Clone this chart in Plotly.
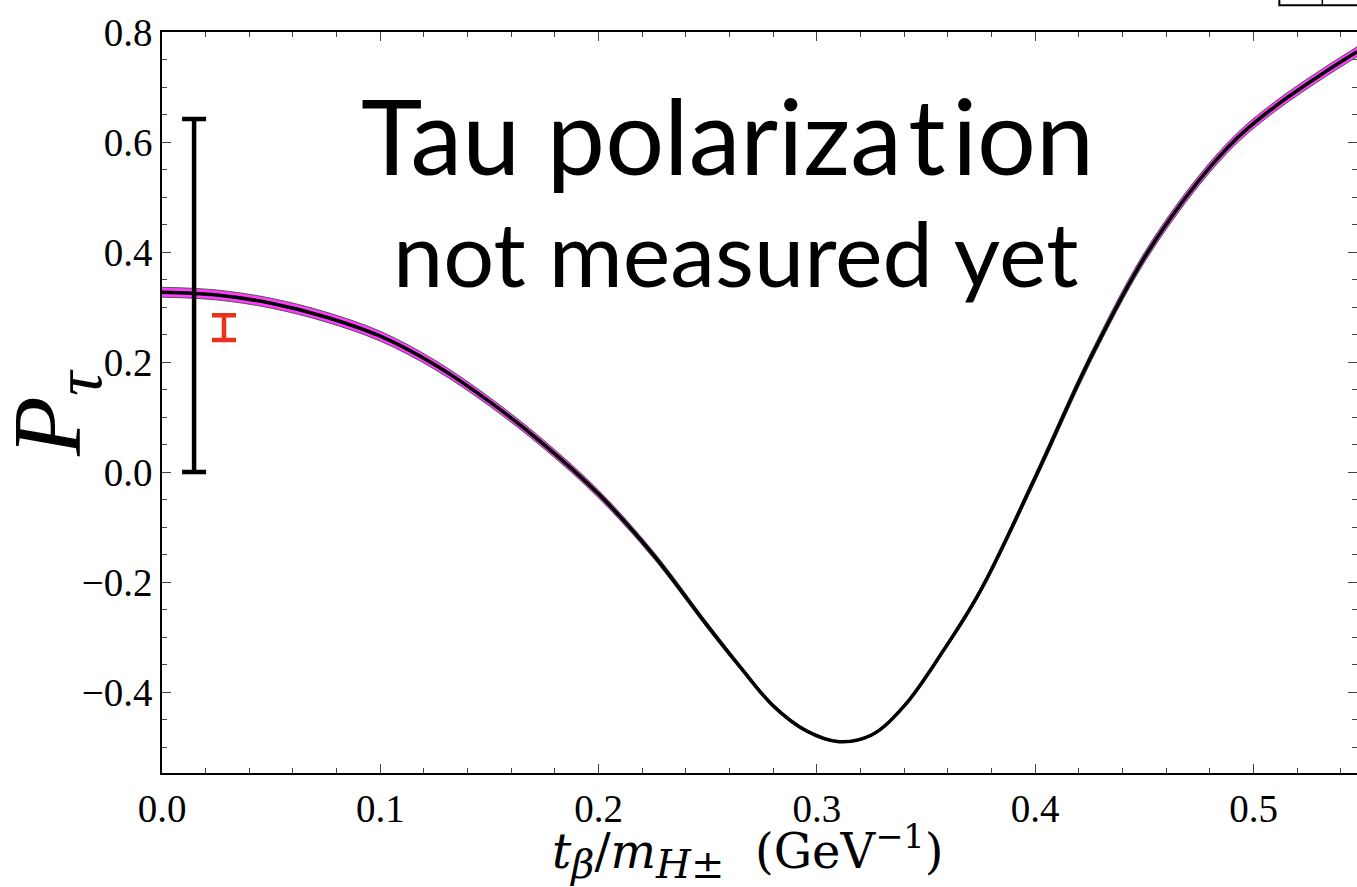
import plotly.graph_objects as go

# ---- data ----
x_vals = [0.0, 0.025, 0.05, 0.075, 0.1, 0.125, 0.15, 0.175, 0.2, 0.225, 0.25, 0.265,
          0.28, 0.295, 0.31, 0.325, 0.34, 0.358, 0.375, 0.4, 0.425, 0.45, 0.475, 0.493,
          0.51, 0.53, 0.5474]
p_tau = [0.327, 0.322, 0.307, 0.282, 0.247, 0.195, 0.128, 0.050, -0.040, -0.150,
         -0.280, -0.355, -0.425, -0.470, -0.490, -0.478, -0.425, -0.324, -0.215,
         -0.010, 0.205, 0.390, 0.530, 0.609, 0.665, 0.720, 0.764]
band_half = [0.009, 0.009, 0.009, 0.009, 0.009, 0.0085, 0.008, 0.0075, 0.007, 0.006,
             0.005, 0.004, 0.003, 0.002, 0.0015, 0.002, 0.003, 0.004, 0.005, 0.007,
             0.008, 0.009, 0.009, 0.009, 0.009, 0.009, 0.009]

# measurement error bars (x, low, high)
black_bar = {"x": 0.0147, "low": 0.0, "high": 0.642}
red_bar = {"x": 0.0284, "low": 0.240, "high": 0.285}

x_ticks = [0.0, 0.1, 0.2, 0.3, 0.4, 0.5]
y_ticks = [-0.4, -0.2, 0.0, 0.2, 0.4, 0.6, 0.8]
y_range = [-0.547, 0.8]

upper = [p + b for p, b in zip(p_tau, band_half)]
lower = [p - b for p, b in zip(p_tau, band_half)]

fig = go.Figure()
fig.add_trace(go.Scatter(x=x_vals, y=lower, mode="lines",
                         line=dict(color="#555555", width=1, shape="spline", smoothing=1.0),
                         showlegend=False, hoverinfo="skip"))
fig.add_trace(go.Scatter(x=x_vals, y=upper, mode="lines", fill="tonexty",
                         fillcolor="#ff3cff",
                         line=dict(color="#555555", width=1, shape="spline", smoothing=1.0),
                         showlegend=False, hoverinfo="skip"))
fig.add_trace(go.Scatter(x=x_vals, y=p_tau, mode="lines",
                         line=dict(color="black", width=3.5, shape="spline", smoothing=1.0),
                         showlegend=False))

for bar, col in [(black_bar, "black"), (red_bar, "#e8301c")]:
    mid = (bar["low"] + bar["high"]) / 2
    half = (bar["high"] - bar["low"]) / 2
    fig.add_trace(go.Scatter(x=[bar["x"]], y=[mid], mode="markers",
                             marker=dict(size=1, color=col, opacity=0),
                             error_y=dict(type="data", array=[half], arrayminus=[half],
                                          color=col, thickness=4.5, width=12),
                             showlegend=False))

# invisible trace on the right-hand axis so its ticks are drawn
fig.add_trace(go.Scatter(x=[x_vals[0]], y=[p_tau[0]], yaxis="y2", mode="markers",
                         marker=dict(opacity=0), showlegend=False, hoverinfo="skip"))

tick_font = dict(family="Liberation Serif", size=39, color="black")
fig.update_xaxes(range=[0, 0.5474], tickvals=x_ticks, tickformat=".1f",
                 ticks="inside", ticklen=9, tickwidth=1.2, tickcolor="#444",
                 minor=dict(dtick=0.02, ticks="inside", ticklen=5, tickcolor="#444", tickwidth=1),
                 showline=True, linecolor="black", linewidth=1.5, mirror="ticks",
                 showgrid=False, zeroline=False, tickfont=tick_font)
fig.update_layout(
    yaxis=dict(range=y_range, tickvals=y_ticks, tickformat=".1f",
               ticks="inside", ticklen=9, tickwidth=1.2, tickcolor="#444",
               minor=dict(dtick=0.05, ticks="inside", ticklen=5, tickcolor="#444", tickwidth=1),
               showline=True, linecolor="black", linewidth=1.5, mirror=False,
               showgrid=False, zeroline=False, tickfont=tick_font),
    yaxis2=dict(range=y_range, overlaying="y", side="right", tickvals=y_ticks,
                ticks="inside", ticklen=9, tickwidth=1.2, tickcolor="#444",
                minor=dict(dtick=0.05, ticks="inside", ticklen=5, tickcolor="#444", tickwidth=1),
                showline=False, showticklabels=False, showgrid=False, zeroline=False),
)

fig.add_annotation(text="Tau polariza\u200At\u200Aion",
                   x=0.473, y=0.861, xref="paper", yref="paper",
                   xanchor="center", yanchor="middle", showarrow=False,
                   font=dict(family="Lato", size=104, color="black"))
fig.add_annotation(text="not measured yet", x=0.480, y=0.703, xref="paper", yref="paper",
                   xanchor="center", yanchor="middle", showarrow=False,
                   font=dict(family="Lato", size=90, color="black"))

fig.add_annotation(text="<i>P</i><sub><i>τ</i></sub>", x=-0.0895, y=0.486,
                   xref="paper", yref="paper", showarrow=False, textangle=-90,
                   xanchor="center", yanchor="middle",
                   font=dict(family="Liberation Serif", size=98, color="black"))
fig.add_annotation(
    text='<i>t</i><sub><span style="font-size:40px"><i>β</i></span></sub>/<i>m</i>'
         '<sub><span style="font-size:40px"><i>H</i>±</span></sub>  (GeV<sup>−1</sup>)',
    x=0.490, y=-0.107, xref="paper", yref="paper", showarrow=False,
    xanchor="center", yanchor="middle",
    font=dict(family="DejaVu Serif", size=48, color="black"))

# small box fragment at top-right corner
fig.add_shape(type="path", xref="paper", yref="paper",
              path="M 0.935 1.049 L 0.935 1.036 L 1.0 1.036",
              line=dict(color="black", width=2))
fig.add_shape(type="line", xref="paper", yref="paper", x0=0.971, x1=0.971, y0=1.036, y1=1.049,
              line=dict(color="black", width=1.5))

fig.update_layout(width=1357, height=887, plot_bgcolor="white", paper_bgcolor="white",
                  margin=dict(l=162, r=0, t=32, b=114))
fig.write_html("out.html")
